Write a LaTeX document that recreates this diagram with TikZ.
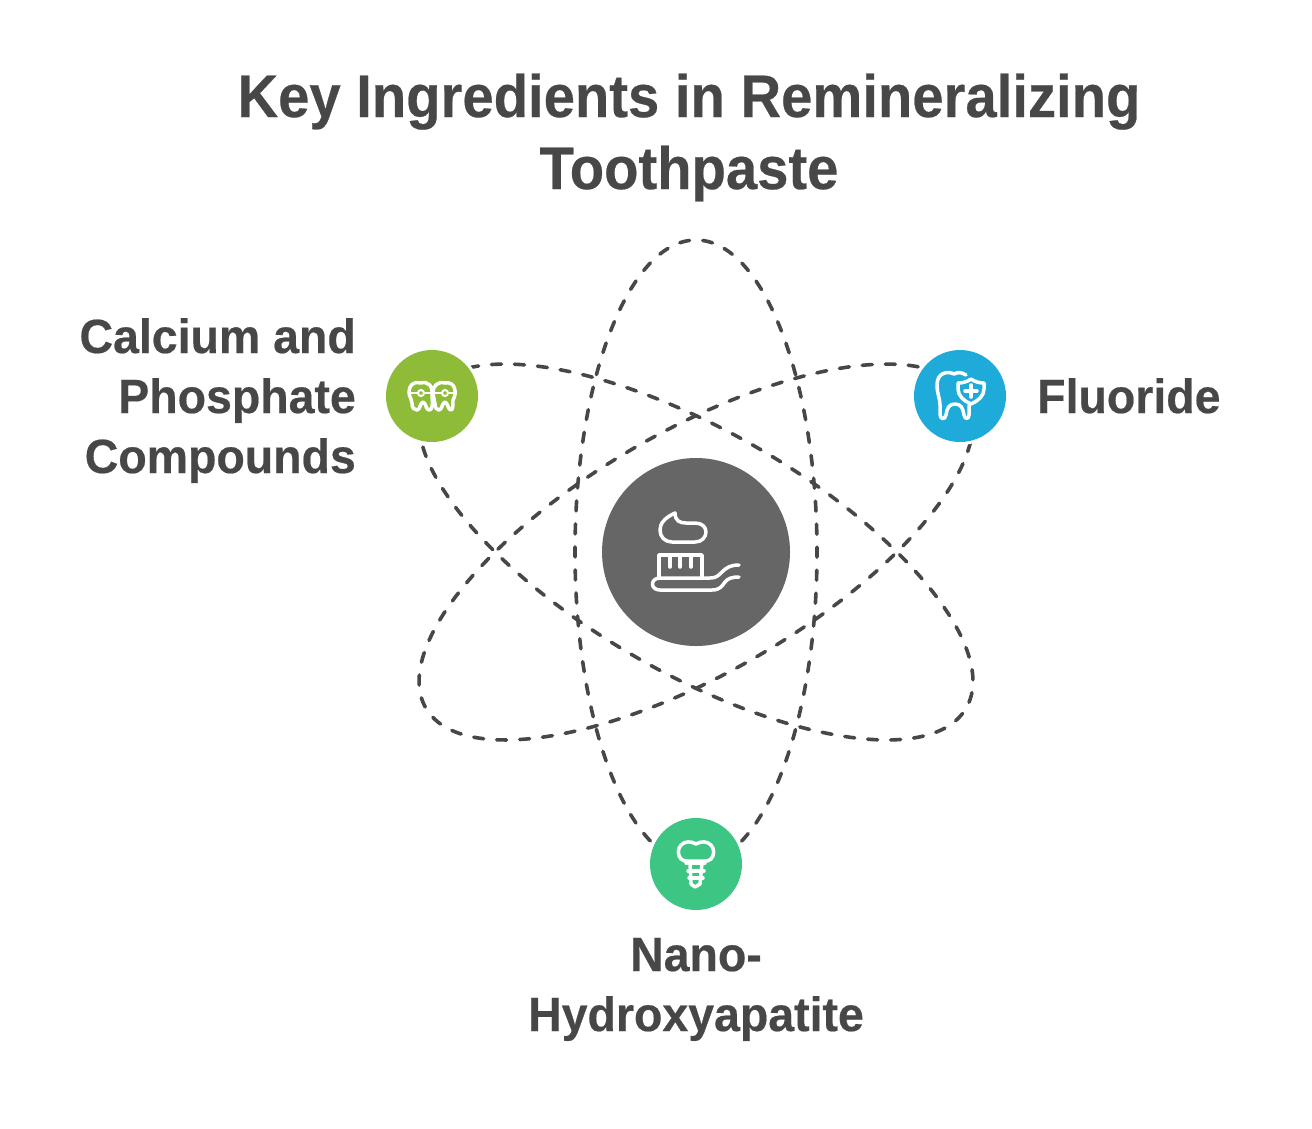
\documentclass[tikz,border=0pt]{standalone}
\usepackage{fontspec}
\newfontfamily\ttlfont{Liberation Sans Bold}[FakeStretch=0.937,FakeBold=0.4]
\newfontfamily\lblfont{Liberation Sans Bold}[FakeStretch=0.968,FakeBold=0.4]
\definecolor{ink}{HTML}{474747}
\definecolor{hub}{HTML}{666666}
\definecolor{lime}{HTML}{8FBC38}
\definecolor{sky}{HTML}{1EABDA}
\definecolor{mint}{HTML}{3CC583}
\tikzset{
  orbit/.style={draw=ink,line width=3.6pt,dash pattern=on 10pt off 13.02pt,dash phase=#1,line cap=round},
  dot/.style={circle,inner sep=0pt,minimum size=#1,draw=none},
  halo/.style={circle,fill=white,inner sep=0pt,minimum size=98pt},
  ico/.style={draw=white,line width=3.5pt,line cap=round,line join=round},
  ttl/.style={text=ink,font=\ttlfont\fontsize{60}{72}\selectfont,align=center,inner sep=0pt},
  lbl/.style={text=ink,font=\lblfont\fontsize{48}{60}\selectfont,inner sep=0pt}
}
\begin{document}
\begin{tikzpicture}[x=1pt,y=-1pt]
\useasboundingbox (0,0) rectangle (1312,1128);
\node[ttl,anchor=base] (title) at (689,189) {Key Ingredients in Remineralizing\\Toothpaste};
% orbits
\draw[orbit=16.5pt] (696,240) arc [start angle=90,end angle=450,x radius=121pt,y radius=312pt];
\draw[orbit=16.5pt,rotate around={60:(696,552)}] (696,240) arc [start angle=90,end angle=450,x radius=121pt,y radius=312pt];
\draw[orbit=11pt,rotate around={-60:(696,552)}] (696,240) arc [start angle=90,end angle=450,x radius=121pt,y radius=312pt];
% hub and satellites
\node[dot=188pt,fill=hub] (hubc) at (696,552) {};
\node[halo] at (432,396) {};
\node[halo] at (960,396) {};
\node[halo] at (696,864) {};
\node[dot=92pt,fill=lime] (calcium) at (432,396) {};
\node[dot=92pt,fill=sky] (fluor) at (960,396) {};
\node[dot=92pt,fill=mint] (nano) at (696,864) {};
% toothpaste icon
\draw[ico] (675,513) .. controls (664,518) and (660,524) .. (660,530) .. controls (660,537) and (665,542) .. (672,542)
  -- (695,542) .. controls (702,542) and (706,537) .. (706,532) .. controls (706,527) and (702,523) .. (695,523)
  -- (686,523) .. controls (680,523) and (675,521) .. (675,513) -- cycle;
\draw[ico] (659,577) -- (659,555) -- (702,555) -- (702,577);
\draw[ico] (670,556) -- (670,567) (680,556) -- (680,567) (691,556) -- (691,567);
\draw[ico] (739,565) .. controls (730,565) and (726,568) .. (722,572) .. controls (718,576) and (716,578) .. (710,578)
  -- (660,578) .. controls (650,578) and (650,590) .. (660,590) -- (712,590)
  .. controls (720,590) and (722,586) .. (725,582) .. controls (728,578) and (733,577) .. (739,577);
% braces icon
\draw[ico] (420,383) .. controls (413,381) and (409,386) .. (409,392) .. controls (409,397) and (412,399) .. (412,403)
  .. controls (412,408) and (414,410) .. (417,410) .. controls (420,410) and (420,403) .. (423,402)
  .. controls (426,403) and (426,410) .. (429,410) .. controls (432,410) and (433,406) .. (432,396)
  .. controls (433,386) and (429,381) .. (420,383);
\draw[ico] (445,383) .. controls (438,381) and (433,386) .. (433,392) .. controls (433,398) and (435,400) .. (435,404)
  .. controls (435,408) and (437,410) .. (439,410) .. controls (442,410) and (442,403) .. (445,402)
  .. controls (448,403) and (448,410) .. (451,410) .. controls (453,410) and (453,404) .. (453,400)
  .. controls (457,394) and (456,381) .. (445,383);
\draw[ico,line width=2.6pt] (409,393) -- (456,393);
\node[dot=6pt,draw=white,line width=2pt,fill=lime] (br1) at (421,393) {};
\node[dot=6pt,draw=white,line width=2pt,fill=lime] (br2) at (445,393) {};
% tooth-shield icon
\draw[ico] (966,375) .. controls (961,372) and (958,372) .. (954,374) .. controls (948,371) and (937,372) .. (937,385)
  .. controls (937,394) and (940,398) .. (940,405) -- (940,414) .. controls (940,420) and (945,420) .. (946,415)
  .. controls (947,408) and (949,404) .. (955,404) .. controls (961,404) and (963,408) .. (964,415)
  .. controls (965,420) and (969,419) .. (969,415) -- (969,405);
\draw[ico,fill=sky] (971,379) .. controls (967,382) and (962,383) .. (958,383) -- (958,389)
  .. controls (958,396) and (964,401) .. (971,404) .. controls (978,401) and (984,396) .. (984,389) -- (984,383)
  .. controls (980,383) and (975,382) .. (971,379) -- cycle;
\draw[ico] (971,385) -- (971,397) (965,391) -- (977,391);
% implant icon
\draw[ico] (696,844) .. controls (691,841) and (685,841) .. (681,845) .. controls (677,849) and (678,856) .. (681,859)
  .. controls (683,861) and (685,861) .. (688,861) -- (704,861) .. controls (707,861) and (709,861) .. (711,859)
  .. controls (714,856) and (715,849) .. (711,845) .. controls (707,841) and (701,841) .. (696,844) -- cycle;
\draw[ico] (686,863) -- (705,863) (688,871) -- (704,871) (689,878) -- (703,878);
\draw[ico] (690,863) -- (691,884) -- (695,887) -- (700,884) -- (702,863);
% labels
\node[lbl,anchor=base east,align=right] (lcal) at (356,473) {Calcium and\\Phosphate\\Compounds};
\node[lbl,anchor=base west] (lflu) at (1037,413) {Fluoride};
\node[lbl,anchor=base,align=center] (lnano) at (696,1031) {Nano-\\Hydroxyapatite};
\end{tikzpicture}
\end{document}
